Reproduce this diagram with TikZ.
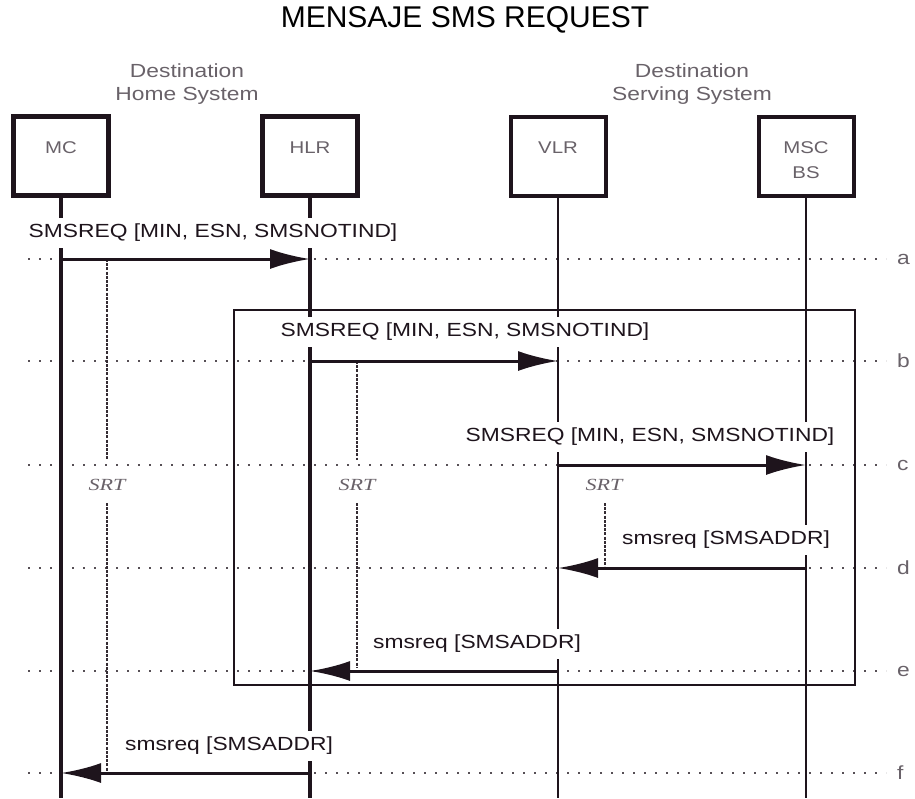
\documentclass[tikz,border=0pt]{standalone}
\usepackage{fontspec}
\setmainfont{Liberation Sans}
\newfontfamily\widefont[FakeStretch=1.2]{Liberation Sans}
\newfontfamily\srtfont[FakeStretch=1.3]{Liberation Serif}
\usetikzlibrary{arrows.meta}
\definecolor{ink}{RGB}{30,20,28}
\definecolor{softgray}{RGB}{105,98,105}
\tikzset{
  unit/.style={draw=ink,line width=4.5pt,minimum width=95pt,minimum height=79pt,inner sep=0pt},
  unitname/.style={font=\widefont\fontsize{17}{25}\selectfont,text=softgray,align=center},
  sysname/.style={font=\widefont\fontsize{19}{23.5}\selectfont,text=softgray,align=center},
  lifeline/.style={draw=ink,line width=3.5pt},
  level/.style={draw=ink!75,line width=2.2pt,dash pattern=on 2pt off 9pt},
  levelname/.style={font=\widefont\fontsize{19}{22}\selectfont,text=softgray,anchor=west,inner xsep=1pt},
  msg/.style={draw=ink,line width=3pt,-{Latex[length=40pt,width=20pt]}},
  msglbl/.style={font=\widefont\fontsize{19}{22}\selectfont,text=ink,fill=white,inner xsep=1pt,inner ysep=6pt},
  timer/.style={draw=ink!90,line width=2.8pt,dash pattern=on 3pt off 1.2pt},
  timerlbl/.style={font=\srtfont\itshape\fontsize{17}{20}\selectfont,text=softgray},
}
\begin{document}
\begin{tikzpicture}[x=1pt,y=-1pt]
    \useasboundingbox (0,0) rectangle (915,798);
    \node[font=\fontsize{30}{36}\selectfont] (title) at (465,20) {MENSAJE SMS REQUEST}; %titulo
    \node[sysname] (home) at (187,84) {Destination\\Home System};
    \node[sysname] (serving) at (692,84) {Destination\\Serving System};
    % niveles a--f
    \foreach \lv/\y in {a/259,b/361,c/465,d/568,e/671,f/773}{
        \draw[level] (28,\y) -- (886,\y);
        \node[levelname] (lvl-\lv) at (896,\y) {\lv};
        \foreach \ln/\x in {mc/61,hlr/310,vlr/558,msc/806}
            \coordinate (\ln-\lv) at (\x,\y);
    }
    \draw[draw=ink,line width=2.4pt] (234,310) rectangle (855,685); %caja
    % entidades
    \node[unit] (mc) at (61,156) {};
    \node[unit] (hlr) at (310,156) {};
    \node[unit,line width=4pt] (vlr) at (558,156) {};
    \node[unit,line width=4pt] (msc) at (806,156) {};
    \node[unitname] (mc-name) at (61,148) {MC};
    \node[unitname] (hlr-name) at (310,148) {HLR};
    \node[unitname] (vlr-name) at (558,148) {VLR};
    \node[unitname] (msc-name) at (806,160) {MSC\\BS};
    \foreach \ln/\x in {mc/61,hlr/310,vlr/558,msc/806}
        \coordinate (\ln-end) at (\x,798);
    \draw[lifeline] (mc.south) -- (mc-end);
    \draw[lifeline] (hlr.south) -- (hlr-end);
    \draw[lifeline,line width=2.6pt] (vlr.south) -- (vlr-end);
    \draw[lifeline,line width=2.6pt] (msc.south) -- (msc-end);
    % temporizadores
    \draw[timer] (107,259) -- (107,460) (107,503) -- (107,773);
    \draw[timer] (357,361) -- (357,460) (357,503) -- (357,668);
    \draw[timer] (605,503) -- (605,566);
    \node[timerlbl] (srt-a) at (107,485) {SRT};
    \node[timerlbl] (srt-b) at (357,485) {SRT};
    \node[timerlbl] (srt-c) at (604,485) {SRT};
    % mensajes
    \draw[msg] (mc-a) -- (hlr-a);
    \draw[msg] (hlr-b) -- (vlr-b);
    \draw[msg] (vlr-c) -- (msc-c);
    \draw[msg] (msc-d) -- (vlr-d);
    \draw[msg] (vlr-e) -- (hlr-e);
    \draw[msg] (hlr-f) -- (mc-f);
    \node[msglbl] (lbl-a) at (213,233) {SMSREQ [MIN, ESN, SMSNOTIND]};
    \node[msglbl] (lbl-b) at (465,332) {SMSREQ [MIN, ESN, SMSNOTIND]};
    \node[msglbl] (lbl-c) at (650,437) {SMSREQ [MIN, ESN, SMSNOTIND]};
    \node[msglbl] (lbl-d) at (726,540) {smsreq [SMSADDR]};
    \node[msglbl] (lbl-e) at (477,644) {smsreq [SMSADDR]};
    \node[msglbl] (lbl-f) at (229,746) {smsreq [SMSADDR]};
\end{tikzpicture}
\end{document}
